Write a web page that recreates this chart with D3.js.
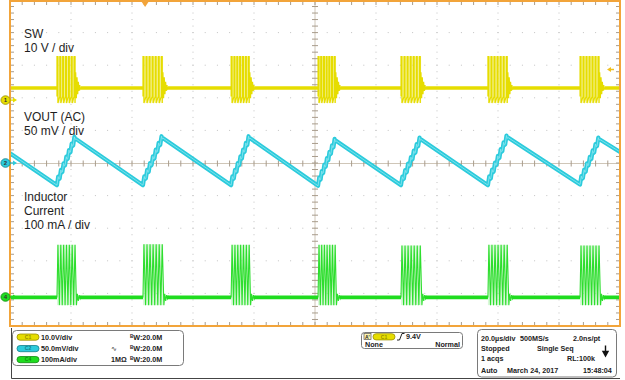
<!DOCTYPE html>
<html><head><meta charset="utf-8">
<script src="https://cdn.jsdelivr.net/npm/d3@7"></script>
<style>
html,body{margin:0;padding:0;background:#fff;}
svg{display:block;font-family:"Liberation Sans",Arial,sans-serif;}
</style></head><body>
<svg id="c" width="625" height="380"></svg>
<script>
// ---------------- data (time in µs, 20 µs/div, 10 div) ----------------
const burstStart = [15.4, 43.6, 72.5, 101.0, 128.2, 156.7, 186.9];   // µs
const burstEnd   = [21.6, 50.2, 78.7, 106.9, 134.8, 163.3, 193.4];   // µs
const pulseCount = [7, 7, 7, 7, 7, 7, 7];
const swLevels   = [3.7, 13.3, -0.9];          // idle, high, low (V)
const swRing     = [8.5, 0.6, 7.0, 1.8, 5.6, 2.8, 4.6, 3.4, 3.7]; // V after burst
const voutValley = [-34, -34, -34, -35, -34, -34, -33];   // mV
const voutPeak   = [37, 38, 38, 34, 36, 39, 36];          // mV
const voutEdges  = [15, 17];                              // mV at left / right edge
const curPeak    = [160, 162, 160, 160, 158, 160, 158];   // mA
const curLow     = -25;                                   // mA
const curRing    = [10, -12, 6, -5, 2, 0];                // mA after burst
const chOffsetDiv = [1.93, 0, -4.11];                     // CH1, CH2, CH4 ground (div)
const chNames    = ["C1", "C2", "C4"];
const chScaleTxt = ["10.0V/div", "50.0mV/div", "100mA/div"];
const chCoupling = ["", "\u223F", "1M\u03A9"];
const chLabels   = [["SW", "10 V / div"], ["VOUT (AC)", "50 mV / div"], ["Inductor", "Current", "100 mA / div"]];
const triggerTime = 44.3, triggerLevel = 9.4;
const readout = [
  ["20.0\u00B5s/div", "500MS/s", "2.0ns/pt"],
  ["Stopped", "Single Seq", ""],
  ["1 acqs", "", "RL:100k"],
  ["Auto", "March 24, 2017", "15:48:04"]
];

// ---------------- scales ----------------
const svg = d3.select('#c');
const x = d3.scaleLinear().domain([0, 200]).range([10, 620]);
const yDiv = d3.scaleLinear().domain([-5, 5]).range([326, 0]);
const ySW = d3.scaleLinear().domain([0, 10]).range([yDiv(chOffsetDiv[0]), yDiv(chOffsetDiv[0] + 1)]);
const yV  = d3.scaleLinear().domain([0, 50]).range([yDiv(chOffsetDiv[1]), yDiv(chOffsetDiv[1] + 1)]);
const yI  = d3.scaleLinear().domain([0, 100]).range([yDiv(chOffsetDiv[2]), yDiv(chOffsetDiv[2] + 1)]);

const ORANGE = '#f2a43a', TICK = '#a89c8c', DOT = '#c2c2c2';
const YEL = '#e6dd00', CYAN = '#2ccbdc', GREEN = '#1fdc1f';
const chColors = [YEL, CYAN, GREEN];
const chDark = ['#9a9000', '#11808c', '#108c10'];

// ---------------- graticule ----------------
const grid = svg.append('g');
const minorT = d3.range(0, 51).map(i => i * 4);
const minorD = d3.range(0, 51).map(i => -5 + i * 0.2);
d3.range(1, 10).filter(i => i !== 5).forEach(i => {
  grid.selectAll(null).data(minorD.slice(1, -1)).enter().append('rect')
    .attr('x', x(i * 20) - 0.5).attr('y', d => yDiv(d) - 0.5).attr('width', 1).attr('height', 1).attr('fill', DOT);
});
d3.range(-4, 5).filter(j => j !== 0).forEach(j => {
  grid.selectAll(null).data(minorT.slice(1, -1)).enter().append('rect')
    .attr('x', d => x(d) - 0.5).attr('y', yDiv(j) - 0.5).attr('width', 1).attr('height', 1).attr('fill', DOT);
});
// center cross
grid.append('line').attr('x1', x(100)).attr('x2', x(100)).attr('y1', yDiv(5)).attr('y2', yDiv(-5)).attr('stroke', '#cfc6b8').attr('stroke-width', 1);
grid.append('line').attr('x1', x(0)).attr('x2', x(200)).attr('y1', yDiv(0) + 0.5).attr('y2', yDiv(0) + 0.5).attr('stroke', '#cfc6b8').attr('stroke-width', 1);
grid.selectAll(null).data(minorD).enter().append('line')
  .attr('x1', x(100) - 3).attr('x2', x(100) + 3).attr('y1', d => yDiv(d)).attr('y2', d => yDiv(d)).attr('stroke', TICK);
grid.selectAll(null).data(minorT).enter().append('line')
  .attr('x1', d => x(d)).attr('x2', d => x(d)).attr('y1', yDiv(0) - 2.5).attr('y2', yDiv(0) + 3.5).attr('stroke', TICK);
// border ticks
grid.selectAll(null).data(minorT).enter().append('line')
  .attr('x1', d => x(d)).attr('x2', d => x(d)).attr('y1', 1).attr('y2', 5).attr('stroke', TICK);
grid.selectAll(null).data(minorT).enter().append('line')
  .attr('x1', d => x(d)).attr('x2', d => x(d)).attr('y1', 326).attr('y2', 322).attr('stroke', TICK);
grid.selectAll(null).data(minorD).enter().append('line')
  .attr('x1', 10).attr('x2', 14).attr('y1', d => yDiv(d)).attr('y2', d => yDiv(d)).attr('stroke', TICK);
grid.selectAll(null).data(minorD).enter().append('line')
  .attr('x1', 620).attr('x2', 616).attr('y1', d => yDiv(d)).attr('y2', d => yDiv(d)).attr('stroke', TICK);

// ---------------- channel labels ----------------
const lab = svg.append('g').attr('font-size', 12).attr('fill', '#1e1e1e');
const labBase = [37.5, 120.5, 200.5];
chLabels.forEach((lines, c) => {
  lines.forEach((t, k) => lab.append('text').attr('x', 24).attr('y', labBase[c] + k * 14.3).text(t));
});

// ---------------- traces ----------------
const line = d3.line().x(d => x(d[0])).y(d => d[1]);
const traces = svg.append('g');

// persistence fills
burstStart.forEach((s, i) => {
  traces.append('rect').attr('x', x(s)).attr('width', x(burstEnd[i]) - x(s))
    .attr('y', ySW(swLevels[1])).attr('height', ySW(swLevels[2]) - ySW(swLevels[1]))
    .attr('fill', '#f4f09c').attr('opacity', 0.55);
  traces.append('rect').attr('x', x(s)).attr('width', x(burstEnd[i]) - x(s))
    .attr('y', yI(curPeak[i])).attr('height', yI(curLow) - yI(curPeak[i]))
    .attr('fill', '#b4f2b4').attr('opacity', 0.5);
});

// SW
const swPts = [[0, ySW(swLevels[0])]];
burstStart.forEach((s, i) => {
  const n = pulseCount[i], per = (burstEnd[i] - 0.6 - s) / (n - 1);
  swPts.push([s, ySW(swLevels[0])]);
  for (let k = 0; k < n; k++) {
    const t = s + k * per;
    swPts.push([t, ySW(swLevels[2] + 2)], [t, ySW(swLevels[1])], [t + 0.32, ySW(swLevels[1])], [t + 0.32, ySW(swLevels[2])]);
  }
  const te = s + (n - 1) * per + 0.32;
  swRing.forEach((v, k) => swPts.push([te + 0.22 * (k + 1), ySW(v)]));
});
swPts.push([200, ySW(swLevels[0])]);
traces.append('path').attr('d', line(swPts)).attr('fill', 'none').attr('stroke', YEL).attr('stroke-width', 1.2);
// thick idle baseline
const swBase = [[0, ySW(swLevels[0])]];
burstStart.forEach((s, i) => { swBase.push([s, ySW(swLevels[0])], null, [burstEnd[i] + 1.6, ySW(swLevels[0])]); });
swBase.push([200, ySW(swLevels[0])]);
traces.append('path').attr('d', d3.line().defined(d => d).x(d => x(d[0])).y(d => d[1])(swBase))
  .attr('fill', 'none').attr('stroke', YEL).attr('stroke-width', 3.4);

// VOUT
const vPts = [[0, yV(voutEdges[0])]];
burstStart.forEach((s, i) => {
  const n = pulseCount[i], per = (burstEnd[i] - s) / n, dv = (voutPeak[i] - voutValley[i]) / n;
  vPts.push([s, yV(voutValley[i])]);
  for (let k = 0; k < n; k++) {
    const t = s + k * per, v = voutValley[i] + k * dv;
    vPts.push([t + per * 0.45, yV(v + dv * 1.3)], [t + per * 0.7, yV(v + dv * 0.9)], [t + per, yV(v + dv)]);
  }
});
vPts.push([200, yV(voutEdges[1])]);
traces.append('path').attr('d', line(vPts)).attr('fill', 'none').attr('stroke', CYAN).attr('stroke-width', 4.2).attr('stroke-linejoin', 'round');
traces.append('path').attr('d', line(vPts)).attr('fill', 'none').attr('stroke', '#8fe6ef').attr('stroke-width', 1).attr('opacity', 0.8);

// Inductor current
const iPts = [[0, yI(0)]];
burstStart.forEach((s, i) => {
  const n = pulseCount[i], per = (burstEnd[i] - 0.6 - s) / (n - 1);
  iPts.push([s, yI(0)]);
  for (let k = 0; k < n; k++) {
    const t = s + k * per;
    iPts.push([t + 0.32, yI(curPeak[i])], [t + per * 0.85, yI(curLow)]);
  }
  const te = s + (n - 1) * per + per * 0.85;
  curRing.forEach((v, k) => iPts.push([te + 0.3 * (k + 1), yI(v)]));
});
iPts.push([200, yI(0)]);
traces.append('path').attr('d', line(iPts)).attr('fill', 'none').attr('stroke', '#2ede2e').attr('stroke-width', 1.1);
const iBase = [[0, yI(-1)]];
burstStart.forEach((s, i) => { iBase.push([s, yI(-1)], null, [burstEnd[i] + 1.2, yI(-1)]); });
iBase.push([200, yI(-1)]);
traces.append('path').attr('d', d3.line().defined(d => d).x(d => x(d[0])).y(d => d[1])(iBase))
  .attr('fill', 'none').attr('stroke', GREEN).attr('stroke-width', 3.8);

// ---------------- border ----------------
const b = svg.append('g').attr('stroke', ORANGE).attr('stroke-width', 2).attr('fill', 'none');
b.append('rect').attr('x', x(0)).attr('y', 1).attr('width', x(200) - x(0)).attr('height', 325);

// trigger position & level markers
svg.append('path').attr('d', `M${x(triggerTime) - 4},1 L${x(triggerTime) + 4},1 L${x(triggerTime)},7 Z`).attr('fill', ORANGE);
const tl = ySW(triggerLevel);
svg.append('path').attr('d', `M607,${tl} L611,${tl - 2.5} L611,${tl + 2.5} Z M611,${tl - 0.7} L614,${tl - 0.7} L614,${tl + 0.7} L611,${tl + 0.7}Z`).attr('fill', '#f0c020');

// channel ground markers
const chNum = ['1', '2', '4'];
chOffsetDiv.forEach((o, c) => {
  const yy = yDiv(o);
  svg.append('path').attr('d', `M10,${yy - 0.6} L13,${yy - 0.6} L13,${yy - 2.5} L17,${yy} L13,${yy + 2.5} L13,${yy + 0.6} L10,${yy + 0.6}Z`).attr('fill', chColors[c]);
  svg.append('ellipse').attr('cx', 5.5).attr('cy', yy).attr('rx', 4.6).attr('ry', 4.3).attr('fill', chColors[c]).attr('stroke', chDark[c]).attr('stroke-width', 0.8);
  svg.append('text').attr('x', 5.5).attr('y', yy + 2).attr('text-anchor', 'middle').attr('font-size', 6).attr('font-weight', 'bold').attr('fill', '#333').text(chNum[c]);
});

// ---------------- readout panel ----------------
const p = svg.append('g').attr('font-size', 7.2).attr('font-weight', 'bold').attr('fill', '#222');
p.append('path').attr('d', 'M11.5,328 V378.5 H620').attr('fill', 'none').attr('stroke', '#444').attr('stroke-width', 1);
p.append('rect').attr('x', 12.5).attr('y', 330.5).attr('width', 171).attr('height', 35).attr('rx', 4).attr('fill', '#fff').attr('stroke', '#7a7a7a');
const rowC = [337, 348.5, 359.5];
const badge = (xx, yy, c, name) => {
  p.append('rect').attr('x', xx).attr('y', yy - 3).attr('width', 22).attr('height', 6.2).attr('rx', 3.1).attr('fill', chColors[c]).attr('stroke', chDark[c]).attr('stroke-width', 0.8);
  p.append('text').attr('x', xx + 11).attr('y', yy + 1.8).attr('text-anchor', 'middle').attr('font-size', 5).attr('fill', chDark[c]).text(name);
};
rowC.forEach((cy, c) => {
  badge(17, cy, c, chNames[c]);
  p.append('text').attr('x', 41).attr('y', cy + 2.5).text(chScaleTxt[c]);
  if (chCoupling[c]) p.append('text').attr('x', 111).attr('y', cy + 2.5).attr('font-weight', c === 1 ? 'normal' : 'bold').text(chCoupling[c]);
  const t = p.append('text').attr('x', 130).attr('y', cy + 2.5);
  t.append('tspan').attr('font-size', 4.5).attr('dy', -2).text('B');
  t.append('tspan').attr('dy', 2).text('W:20.0M');
});

// trigger box
p.append('rect').attr('x', 361.5).attr('y', 332.5).attr('width', 101).attr('height', 16).attr('rx', 3).attr('fill', '#fff').attr('stroke', '#7a7a7a');
p.append('rect').attr('x', 364).attr('y', 333.5).attr('width', 7).attr('height', 6).attr('fill', '#fff6b0').attr('stroke', '#555').attr('stroke-width', 0.7);
p.append('text').attr('x', 365).attr('y', 338.8).attr('font-size', 5).text("A'");
badge(373, 336.7, 0, 'C1');
p.append('path').attr('d', 'M397,340 L399.5,340 L402,333.5 L404.5,333.5').attr('fill', 'none').attr('stroke', '#222').attr('stroke-width', 1);
p.append('text').attr('x', 406).attr('y', 339.3).text(triggerLevel + 'V');
p.append('text').attr('x', 365).attr('y', 347.3).text('None');
p.append('text').attr('x', 460).attr('y', 347.3).attr('text-anchor', 'end').text('Normal');

// acquisition box
p.append('rect').attr('x', 477.5).attr('y', 329.5).attr('width', 139).attr('height', 47.5).attr('rx', 4).attr('fill', '#fff').attr('stroke', '#7a7a7a');
const rowB = [340.5, 351, 361, 372.5];
const colX = [[481, 520, 573], [481, 537, 0], [481, 0, 567], [481, 507, 583]];
readout.forEach((r, i) => r.forEach((t, j) => {
  if (t) p.append('text').attr('x', colX[i][j]).attr('y', rowB[i]).text(t);
}));
p.append('path').attr('d', 'M605.5,345.5 V352 M603,351.5 L608,351.5 L605.5,356 Z').attr('stroke', '#111').attr('stroke-width', 1.4).attr('fill', '#111');
</script>
</body></html>
